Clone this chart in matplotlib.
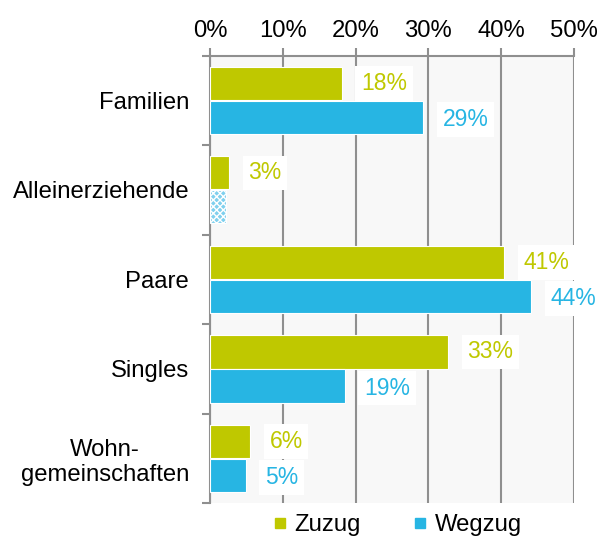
import matplotlib
matplotlib.use('Agg')
import matplotlib.pyplot as plt
from matplotlib.lines import Line2D
import numpy as np

categories = ['Familien', 'Alleinerziehende', 'Paare', 'Singles', 'Wohn-\ngemeinschaften']
zuzug = [18.1, 2.6, 40.4, 32.7, 5.5]
wegzug = [29.3, 2.2, 44.1, 18.5, 4.9]
zuzug_labels = ['18%', '3%', '41%', '33%', '6%']
wegzug_labels = ['29%', '', '44%', '19%', '5%']
xticks = [0, 10, 20, 30, 40, 50]

c_zu = '#bfc800'
c_weg = '#27b5e3'
grey = '#8f8f8f'
fs = 17.2

plt.rcParams['font.family'] = ['Liberation Sans', 'DejaVu Sans']

fig = plt.figure(figsize=(6, 5.4), dpi=100)
ax = fig.add_axes([0.35, 0.068, 0.6067, 0.829])
ax.set_facecolor('#f8f8f8')

y = np.arange(len(categories))
h = 0.37
ax.barh(y - 0.19, zuzug, height=h, color=c_zu, edgecolor='white', linewidth=0.8, zorder=3)
bars_w = ax.barh(y + 0.19, wegzug, height=h, color=c_weg, edgecolor='white', linewidth=0.8, zorder=3)
# Alleinerziehende Wegzug is shown hatched (small sample)
bars_w[1].set_facecolor('#7fd0ee')
bars_w[1].set_hatch('xxxxx')

for i in range(len(categories)):
    if zuzug_labels[i]:
        ax.annotate(zuzug_labels[i], (zuzug[i], y[i] - 0.19), xytext=(14, 0),
                    textcoords='offset points', va='center', ha='left', color=c_zu,
                    fontsize=16.5, zorder=4,
                    bbox=dict(boxstyle='square,pad=0.25', fc='white', ec='none'))
    if wegzug_labels[i]:
        ax.annotate(wegzug_labels[i], (wegzug[i], y[i] + 0.19), xytext=(14, -1.5),
                    textcoords='offset points', va='center', ha='left', color=c_weg,
                    fontsize=16.5, zorder=4,
                    bbox=dict(boxstyle='square,pad=0.25', fc='white', ec='none'))

ax.set_xlim(0, 50)
ax.set_ylim(len(categories) - 0.5, -0.5)
ax.xaxis.tick_top()
ax.set_xticks(xticks)
ax.set_xticklabels([f'{t}%' for t in xticks], fontsize=fs)
ax.set_yticks(y)
ax.set_yticklabels(categories, fontsize=fs, ha='right', multialignment='center')
ax.tick_params(axis='y', length=0, pad=15)
ax.set_yticks(np.arange(-0.5, len(categories)), minor=True)
ax.tick_params(axis='y', which='minor', length=6, width=1.5, color=grey)
ax.tick_params(axis='x', length=6, width=1.5, color=grey, pad=4)

ax.grid(axis='x', color=grey, linewidth=1.5, zorder=1)
ax.set_axisbelow(True)
for s in ['right', 'bottom']:
    ax.spines[s].set_visible(False)
for s in ['top', 'left']:
    ax.spines[s].set_color(grey)
    ax.spines[s].set_linewidth(1.5)

handles = [Line2D([], [], marker='s', linestyle='', color=c_zu, markersize=7),
           Line2D([], [], marker='s', linestyle='', color=c_weg, markersize=7)]
fig.legend(handles, ['Zuzug', 'Wegzug'], loc='center', bbox_to_anchor=(0.66, 0.028),
           ncol=2, frameon=False, fontsize=fs, handletextpad=0.2, columnspacing=2.1,
           handlelength=0.8)

plt.savefig('out.png', dpi=100)
